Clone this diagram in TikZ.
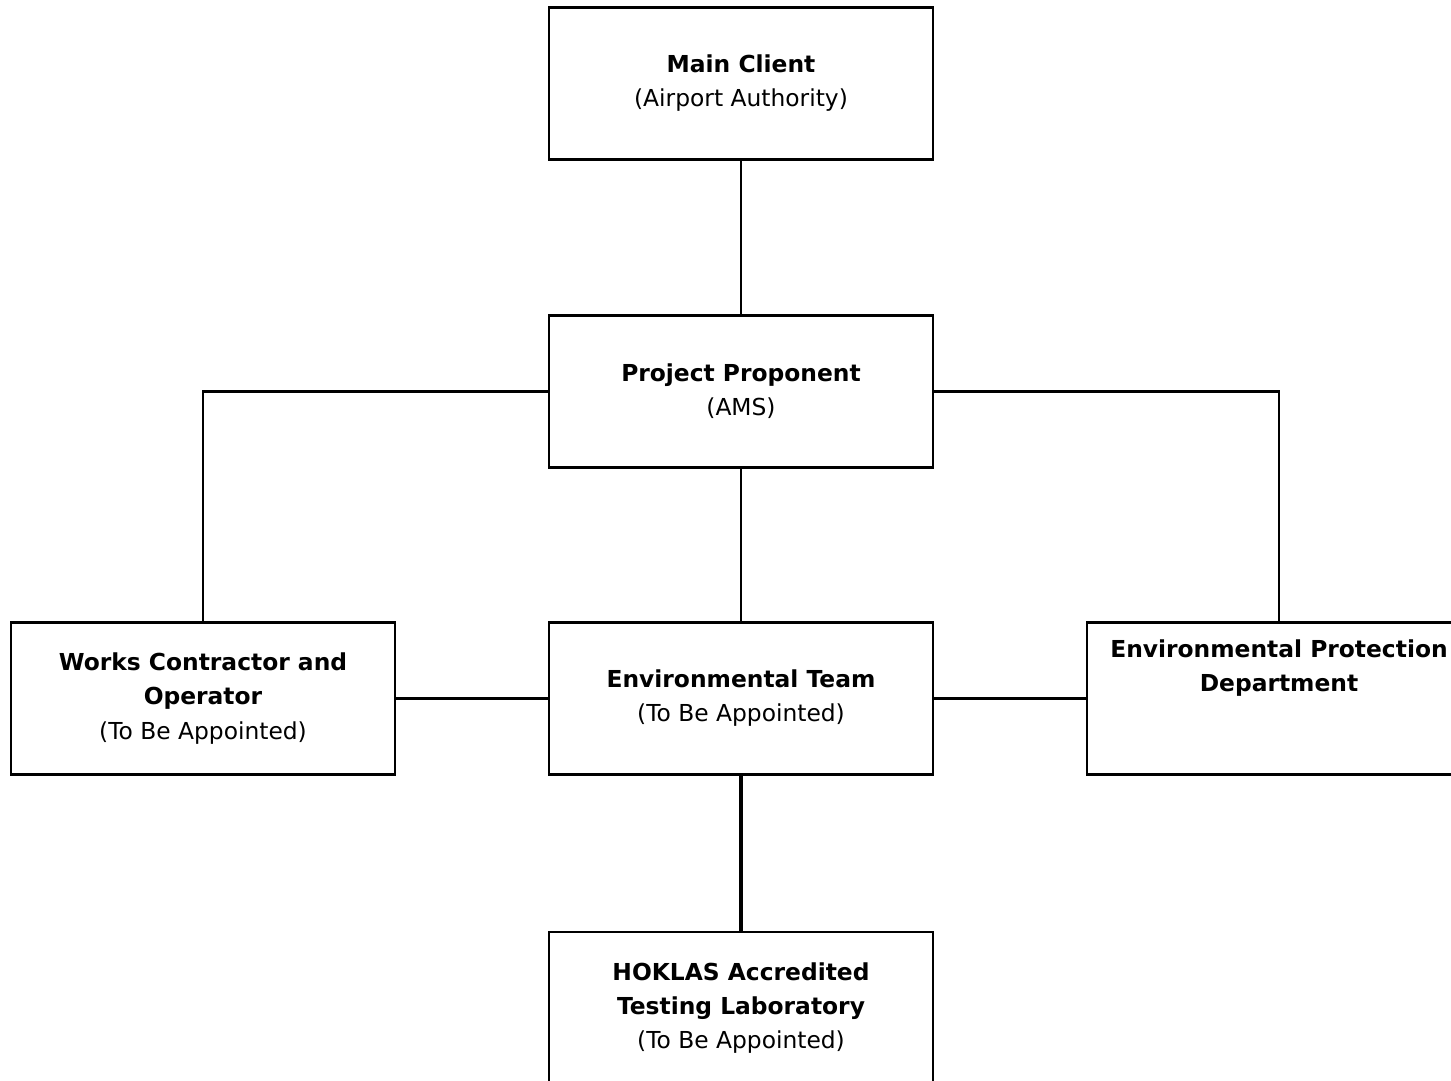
\documentclass[tikz,border=0pt]{standalone}
\usepackage{fontspec}
\setmainfont{DejaVu Sans}
\newcommand*{\boxtextstyle}{\fontsize{13.3}{19.4}\selectfont}
\tikzset{
  orgbox/.style = {draw = black, line width = 1.3pt, fill = white,
                   minimum width = 7.68cm, minimum height = 3.04cm,
                   font = \boxtextstyle, align = center, inner sep = 0pt},
  orgline/.style = {draw = black, line width = 1.3pt}
}

\begin{document}
\begin{tikzpicture}[x=0.02cm, y=-0.02cm]
    \useasboundingbox (0,0) rectangle (1451,1081);
    \clip (0,0) rectangle (1451,1081);

    % top of the chart
    \node[orgbox] (client) at (741, 83.5)
      {\textbf{Main Client}\\(Airport Authority)};

    \node[orgbox] (proponent) at (741, 391.5)
      {\textbf{Project Proponent}\\(AMS)};

    % middle row
    \node[orgbox] (contractor) at (203, 698.5)
      {\textbf{Works Contractor and}\\\textbf{Operator}\\(To Be Appointed)};

    \node[orgbox] (team) at (741, 698.5)
      {\textbf{Environmental Team}\\(To Be Appointed)};

    \node[orgbox] (epd) at (1279, 698.5) {};
    \node[font = \boxtextstyle, align = center] (epdtext) at (1279, 668.5)
      {\textbf{Environmental Protection}\\\textbf{Department}};

    % laboratory
    \node[orgbox] (lab) at (741, 1008)
      {\textbf{HOKLAS Accredited}\\\textbf{Testing Laboratory}\\(To Be Appointed)};

    \path[orgline] (client.south) -- (proponent.north);
    \path[orgline] (proponent.west) -| (contractor.north);
    \path[orgline] (proponent.east) -| (epd.north);
    \path[orgline] (proponent.south) -- (team.north);
    \path[orgline] (contractor.east) -- (team.west);
    \path[orgline] (team.east) -- (epd.west);
    \path[orgline, line width = 2.2pt] (team.south) -- (lab.north);

\end{tikzpicture}
\end{document}
